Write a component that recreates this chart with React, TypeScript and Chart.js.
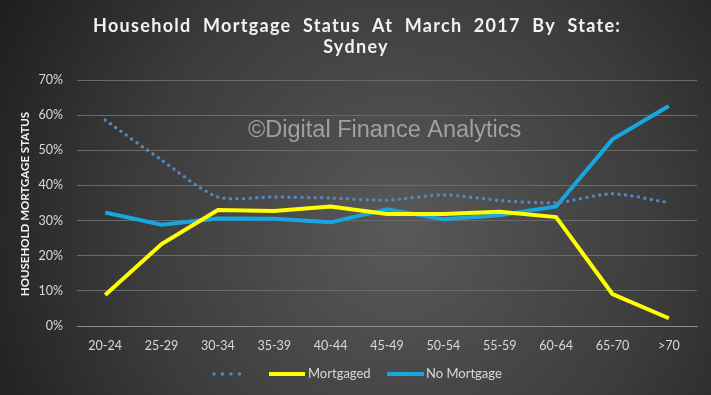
import React, { useEffect, useRef } from "react";
import { Chart, registerables } from "chart.js";

Chart.register(...registerables);

const categories = ["20-24", "25-29", "30-34", "35-39", "40-44", "45-49", "50-54", "55-59", "60-64", "65-70", ">70"];
const seriesDotted = [58.6, 47.2, 36.7, 36.7, 36.4, 35.8, 37.3, 35.7, 35.1, 37.6, 35.1];
const seriesMortgaged = [8.8, 23.3, 33.0, 32.7, 34.0, 31.9, 31.9, 32.5, 31.0, 9.1, 2.2];
const seriesNoMortgage = [32.3, 28.8, 30.6, 30.5, 29.5, 33.2, 30.4, 31.5, 34.0, 53.1, 62.6];
const yTicks = [0, 10, 20, 30, 40, 50, 60, 70];
const titleLines = ["Household  Mortgage  Status  At  March  2017  By  State:", "Sydney"];
const yAxisTitle = "HOUSEHOLD MORTGAGE STATUS";
const watermark = "\u00A9Digital Finance Analytics";
const legendLabels = ["", "Mortgaged", "No Mortgage"];

const DOT_COLOR = "#5287c0";
const YELLOW = "#ffff00";
const BLUE = "#17a6e0";
const TEXT = "#d9d9d9";
const FONT = "Lato, 'Open Sans', sans-serif";

const decorPlugin = {
  id: "decor",
  beforeDraw(chart: any) {
    const { ctx, width, height } = chart;
    ctx.save();
    const g = ctx.createRadialGradient(400, 230, 10, 400, 230, 470);
    g.addColorStop(0, "#585858");
    g.addColorStop(0.55, "#3c3c3c");
    g.addColorStop(1, "#1c1c1c");
    ctx.fillStyle = g;
    ctx.fillRect(0, 0, width, height);
    ctx.restore();
  },
  afterDatasetsDraw(chart: any) {
    const { ctx } = chart;
    ctx.save();
    ctx.font = "23.5px 'Liberation Sans', Arial, sans-serif";
    ctx.fillStyle = "rgba(190,190,190,0.75)";
    ctx.textAlign = "left";
    ctx.textBaseline = "middle";
    ctx.fillText(watermark, 248, 131);
    ctx.restore();
  },
  afterDraw(chart: any) {
    const { ctx } = chart;
    ctx.save();
    ctx.fillStyle = "#f2f2f2";
    ctx.font = `bold 18px ${FONT}`;
    ctx.textAlign = "left";
    ctx.textBaseline = "middle";
    const targetW = 527;
    const w0 = ctx.measureText(titleLines[0]).width;
    const ls = (targetW - w0) / (titleLines[0].length - 1);
    (ctx as any).letterSpacing = `${ls}px`;
    ctx.fillText(titleLines[0], 93, 26);
    const w1 = ctx.measureText(titleLines[1]).width;
    ctx.fillText(titleLines[1], 356 - w1 / 2, 47);
    (ctx as any).letterSpacing = "0px";

    ctx.save();
    ctx.translate(25, 204);
    ctx.rotate(-Math.PI / 2);
    ctx.font = `bold 11.5px ${FONT}`;
    ctx.textAlign = "center";
    ctx.fillStyle = "#f2f2f2";
    ctx.fillText(yAxisTitle, 0, 0);
    ctx.restore();

    const ly = 374;
    ctx.lineCap = "round";
    ctx.strokeStyle = DOT_COLOR;
    ctx.lineWidth = 3.5;
    ctx.setLineDash([0, 8.5]);
    ctx.beginPath();
    ctx.moveTo(214, ly);
    ctx.lineTo(248, ly);
    ctx.stroke();
    ctx.setLineDash([]);
    ctx.lineCap = "butt";
    ctx.lineWidth = 4;
    ctx.strokeStyle = YELLOW;
    ctx.beginPath();
    ctx.moveTo(269, ly);
    ctx.lineTo(305, ly);
    ctx.stroke();
    ctx.strokeStyle = BLUE;
    ctx.beginPath();
    ctx.moveTo(387, ly);
    ctx.lineTo(424, ly);
    ctx.stroke();
    ctx.font = `13px ${FONT}`;
    ctx.fillStyle = TEXT;
    ctx.textAlign = "left";
    ctx.textBaseline = "middle";
    ctx.fillText(legendLabels[1], 308, ly);
    ctx.fillText(legendLabels[2], 426, ly);
    ctx.restore();
  },
};

export default function App() {
  const ref = useRef<HTMLCanvasElement | null>(null);
  useEffect(() => {
    document.body.style.margin = "0";
    const chart = new Chart(ref.current as HTMLCanvasElement, {
      type: "line",
      data: {
        labels: categories,
        datasets: [
          {
            label: legendLabels[0],
            data: seriesDotted,
            borderColor: DOT_COLOR,
            borderWidth: 3.5,
            borderDash: [0, 6.5],
            borderCapStyle: "round",
            pointRadius: 0,
            tension: 0.25,
            fill: false,
          },
          {
            label: legendLabels[1],
            data: seriesMortgaged,
            borderColor: YELLOW,
            borderWidth: 4,
            pointRadius: 0,
            tension: 0,
            fill: false,
          },
          {
            label: legendLabels[2],
            data: seriesNoMortgage,
            borderColor: BLUE,
            borderWidth: 4,
            pointRadius: 0,
            tension: 0,
            fill: false,
          },
        ],
      },
      options: {
        animation: false,
        responsive: false,
        layout: { padding: { top: 80, right: 14, bottom: 30, left: 0 } },
        plugins: { legend: { display: false }, title: { display: false }, tooltip: { enabled: false } },
        scales: {
          x: {
            offset: true,
            grid: { display: false, drawTicks: false, offset: true },
            border: { display: true, color: "#8c8c8c", width: 1 },
            ticks: { color: TEXT, font: { family: FONT, size: 12.5 }, padding: 12, maxRotation: 0 },
          },
          y: {
            min: 0,
            max: 70,
            afterFit: (s: any) => {
              s.width = 77;
            },
            afterBuildTicks: (s: any) => {
              s.ticks = yTicks.map((v) => ({ value: v }));
            },
            grid: { color: "#6a6a6a", lineWidth: 1, drawTicks: false },
            border: { display: false },
            ticks: {
              color: TEXT,
              font: { family: FONT, size: 12.5 },
              padding: 14,
              callback: (v: any) => `${v}%`,
            },
          },
        },
      },
      plugins: [decorPlugin],
    });
    return () => chart.destroy();
  }, []);
  return (
    <div style={{ position: "fixed", left: 0, top: 0, width: 711, height: 395 }}>
      <canvas ref={ref} width={711} height={395} />
    </div>
  );
}
